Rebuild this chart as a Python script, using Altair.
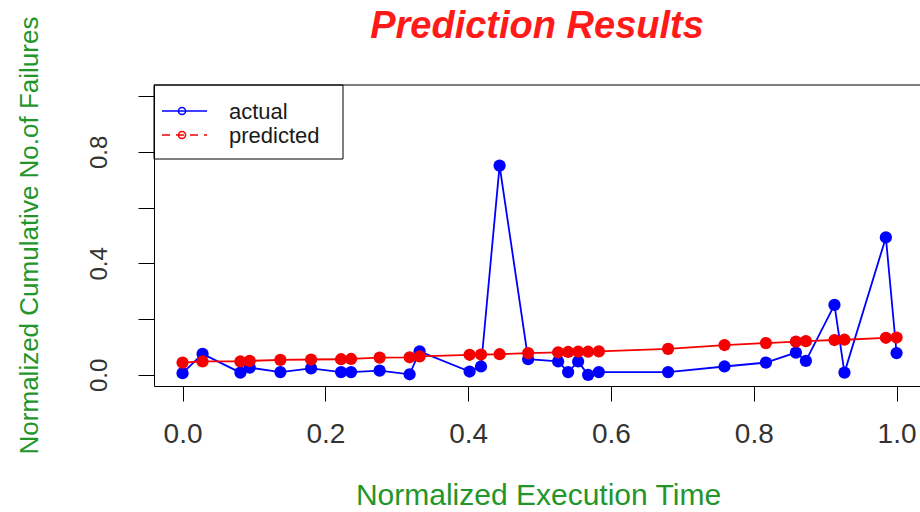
import altair as alt
import pandas as pd

# Normalized execution time and cumulative failures for each observation
x_time = [0.000, 0.028, 0.081, 0.094, 0.137, 0.180, 0.222, 0.236, 0.276, 0.318,
          0.332, 0.402, 0.418, 0.444, 0.484, 0.526, 0.540, 0.554, 0.568, 0.583,
          0.680, 0.759, 0.817, 0.859, 0.873, 0.913, 0.927, 0.985, 1.000]
actual = [0.006, 0.075, 0.008, 0.026, 0.010, 0.023, 0.010, 0.010, 0.015, 0.002,
          0.084, 0.012, 0.030, 0.751, 0.056, 0.048, 0.010, 0.048, 0.000, 0.010,
          0.010, 0.030, 0.044, 0.080, 0.050, 0.251, 0.008, 0.493, 0.078]
predicted = [0.044, 0.048, 0.048, 0.050, 0.054, 0.055, 0.056, 0.057, 0.062, 0.063,
             0.066, 0.072, 0.073, 0.074, 0.078, 0.081, 0.082, 0.083, 0.083, 0.084,
             0.093, 0.107, 0.114, 0.119, 0.121, 0.125, 0.126, 0.133, 0.134]

series_names = ["actual", "predicted"]
series_colors = ["#0000ff", "#f50000"]
x_ticks = [0.0, 0.2, 0.4, 0.6, 0.8, 1.0]
y_ticks = [0.0, 0.2, 0.4, 0.6, 0.8, 1.0]
y_labelled = [0.0, 0.4, 0.8]

title_text = "Prediction Results"
x_title = "Normalized Execution Time"
y_title = "Normalized Cumulative No.of Failures"

FONT = "Liberation Sans"
GREEN = "#22962a"
W, H = 766, 301

df = pd.DataFrame({
    "time": x_time * 2,
    "value": actual + predicted,
    "series": [series_names[0]] * len(x_time) + [series_names[1]] * len(x_time),
})

color_scale = alt.Scale(domain=series_names, range=series_colors)

x_enc = alt.X(
    "time:Q",
    scale=alt.Scale(domain=[-0.04, 1.0328], nice=False, zero=False),
    axis=alt.Axis(
        values=x_ticks, format=".1f", grid=False, title=x_title,
        tickSize=15, tickColor="black", domainColor="black",
        labelFont=FONT, labelFontSize=28, labelColor="#333333",
        labelBaseline="alphabetic", labelPadding=41, labelFlush=False,
        labelOverlap=False,
        titleFont=FONT, titleFontSize=30, titleFontWeight="normal",
        titleColor=GREEN, titleX=384, titleY=118, titleAlign="center",
        titleBaseline="alphabetic",
    ),
)

y_label_expr = "indexof(%s, datum.value) >= 0 ? datum.label : ''" % str(y_labelled)

y_enc = alt.Y(
    "value:Q",
    scale=alt.Scale(domain=[-0.04, 1.04], nice=False, zero=False),
    axis=alt.Axis(
        values=y_ticks, format=".1f", grid=False, title=y_title,
        labelExpr=y_label_expr,
        tickSize=16, tickColor="black", domainColor="black",
        labelFont=FONT, labelFontSize=24, labelColor="#333333",
        labelAngle=270, labelAlign="center", labelBaseline="alphabetic",
        labelPadding=32, labelOverlap=False,
        titleFont=FONT, titleFontSize=26, titleFontWeight="normal",
        titleColor=GREEN, titleAngle=270, titleX=-117, titleY=150,
        titleAlign="center", titleBaseline="alphabetic",
    ),
)

color_enc = alt.Color("series:N", scale=color_scale, legend=None)

base = alt.Chart(df)
data_layers = []
for name in series_names:
    sel = base.transform_filter(alt.datum.series == name)
    data_layers.append(sel.mark_line(strokeWidth=1.8).encode(x=x_enc, y=y_enc, color=color_enc))
    data_layers.append(sel.mark_circle(size=150, opacity=1).encode(x=x_enc, y=y_enc, color=color_enc))
plot = alt.layer(*data_layers)

# Legend box in the upper-left corner, plus frame top edge and main title
legend_df = pd.DataFrame({"series": series_names})
legend_y = alt.Y("series:N", scale=alt.Scale(type="point", domain=series_names,
                                              range=[26, 50], padding=0), axis=None)
dash_enc = alt.StrokeDash("series:N", scale=alt.Scale(domain=series_names,
                                                      range=[[1, 0], [8, 6]]), legend=None)
leg = alt.Chart(legend_df)
single = alt.Chart(alt.Data(values=[{"k": 0}]))

legend_line = leg.mark_rule(strokeWidth=1.5).encode(
    x=alt.value(8), x2=alt.value(53), y=legend_y, color=color_enc, strokeDash=dash_enc)
legend_pt = leg.mark_point(filled=False, size=50, strokeWidth=1.5, opacity=1).encode(
    x=alt.value(28), y=legend_y, color=color_enc)
legend_txt = leg.mark_text(align="left", baseline="middle", dy=1, font=FONT,
                           fontSize=22, color="#1a1a1a").encode(
    x=alt.value(75), y=legend_y, text="series:N")
legend_box = single.mark_rect(fillOpacity=0, stroke="black", strokeWidth=1).encode(
    x=alt.value(0), x2=alt.value(189), y=alt.value(0), y2=alt.value(74))
frame_top = single.mark_rule(color="black", strokeWidth=1).encode(
    x=alt.value(0), x2=alt.value(W), y=alt.value(0))
title_mark = single.mark_text(text=title_text, font=FONT, fontSize=38, fontWeight="bold",
                              fontStyle="italic", color="#ff1a1a", align="center",
                              baseline="alphabetic").encode(
    x=alt.value(383), y=alt.value(-47))

overlay = alt.layer(frame_top, legend_box, legend_line, legend_pt, legend_txt, title_mark)

chart = alt.layer(plot, overlay).resolve_scale(y="independent").properties(
    width=W, height=H,
    autosize=alt.AutoSizeParams(type="none"),
    padding={"left": 154, "top": 85, "right": 0, "bottom": 126},
    background="white",
).configure_view(stroke=None)

chart.save("out.html", embed_options={"renderer": "svg", "actions": False})
